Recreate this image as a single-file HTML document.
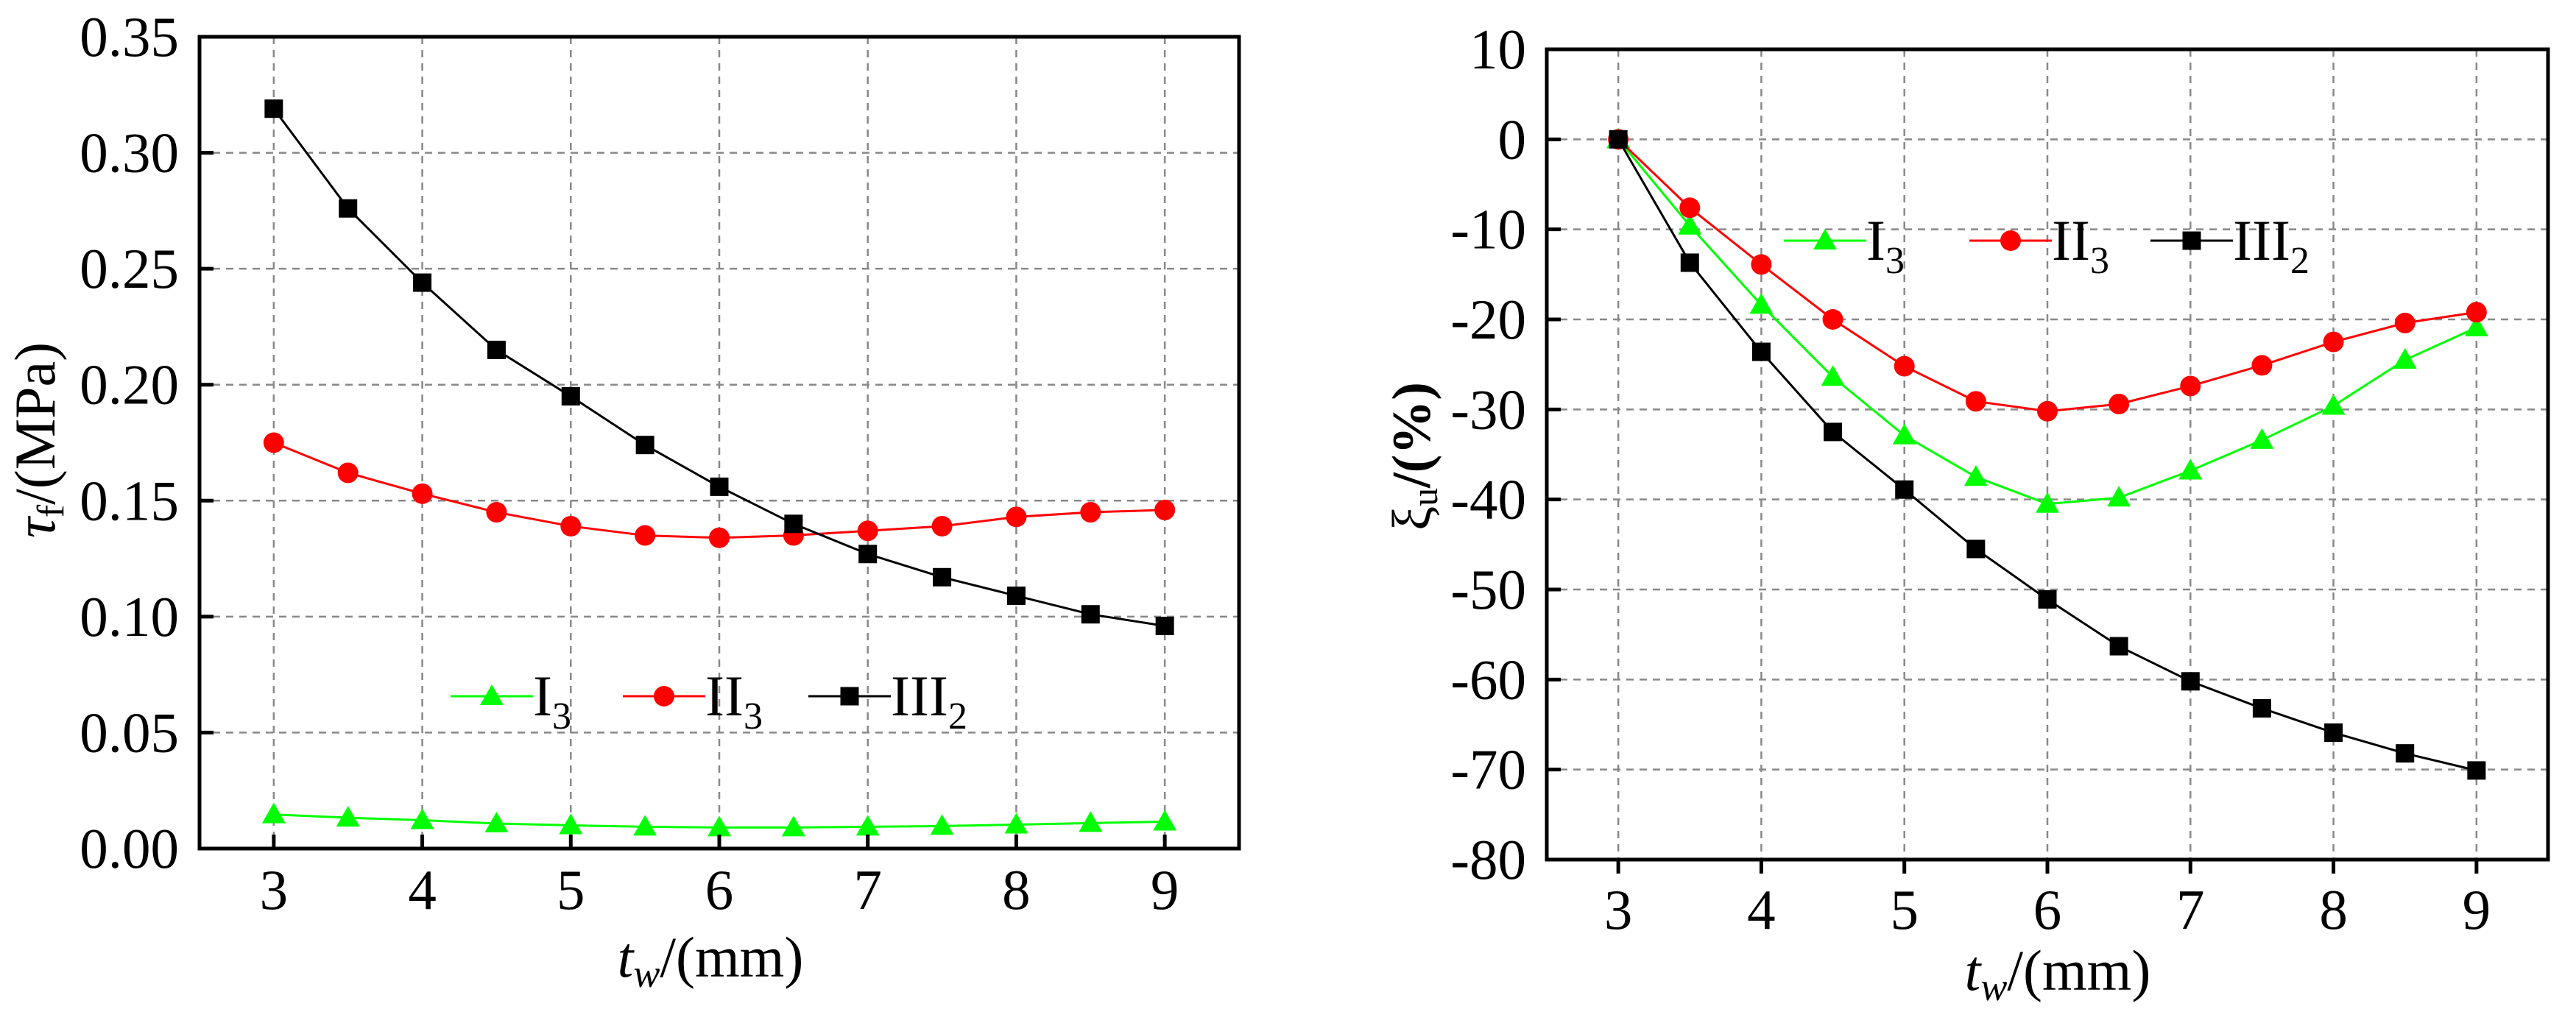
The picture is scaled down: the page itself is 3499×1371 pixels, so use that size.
<!DOCTYPE html>
<html><head><meta charset="utf-8"><style>
html,body{margin:0;padding:0;background:#fff;}
svg{display:block;font-family:"Liberation Serif",serif;}
</style></head><body>
<svg id="c" width="3499" height="1371" viewBox="0 0 3499 1371" xmlns="http://www.w3.org/2000/svg"></svg>
<script>
const xCats=[3,3.5,4,4.5,5,5.5,6,6.5,7,7.5,8,8.5,9];
const xTicks=[3,4,5,6,7,8,9];
const leftYTicks=[0,0.05,0.10,0.15,0.20,0.25,0.30,0.35];
const leftYLabels=["0.00","0.05","0.10","0.15","0.20","0.25","0.30","0.35"];
const leftI3=[0.0147,0.0133,0.0122,0.0108,0.0100,0.0094,0.0091,0.0091,0.0094,0.0097,0.0103,0.0110,0.0116];
const leftII3=[0.175,0.162,0.153,0.145,0.139,0.135,0.134,0.135,0.137,0.139,0.143,0.145,0.146];
const leftIII2=[0.319,0.276,0.244,0.215,0.195,0.174,0.156,0.140,0.127,0.117,0.109,0.101,0.096];
const rightYTicks=[-80,-70,-60,-50,-40,-30,-20,-10,0,10];
const rightI3=[0,-9.6,-18.4,-26.4,-32.9,-37.5,-40.5,-39.8,-36.8,-33.4,-29.6,-24.5,-20.9];
const rightII3=[0,-7.6,-13.9,-20,-25.2,-29.1,-30.2,-29.4,-27.4,-25.1,-22.5,-20.4,-19.2];
const rightIII2=[0,-13.7,-23.6,-32.5,-38.9,-45.5,-51.1,-56.3,-60.2,-63.2,-65.9,-68.2,-70.1];

const NS="http://www.w3.org/2000/svg";
const svg=document.getElementById('c');
function mk(tag,attrs,parent){const e=document.createElementNS(NS,tag);for(const k in attrs)e.setAttribute(k,attrs[k]);(parent||svg).appendChild(e);return e;}

function marker(g,type,cx,cy,color){
  let m;
  if(type==='tri'){m=mk('polygon',{points:`${cx},${cy-16} ${cx-16},${cy+12} ${cx+16},${cy+12}`,fill:color},g);}
  else if(type==='circ'){m=mk('circle',{cx:cx,cy:cy,r:14,fill:color},g);}
  else{m=mk('rect',{x:cx-12.5,y:cy-12.5,width:25,height:25,fill:color},g);}
  return m;
}

function panel(o){
  const g=mk('g',{});
  
  
  const X=v=>o.x0+(v-2.5)/(7)*(o.x1-o.x0);
  const Y=v=>o.y1-(v-o.ymin)/(o.ymax-o.ymin)*(o.y1-o.y0);
  xTicks.forEach(t=>{const l=mk('line',{x1:X(t),x2:X(t),y1:o.y0,y2:o.y1,stroke:'#888','stroke-width':2.5,'stroke-dasharray':'10 8'},g);
    });
  o.yTicks.forEach(t=>{if(t===o.ymin||t===o.ymax)return;const l=mk('line',{x1:o.x0,x2:o.x1,y1:Y(t),y2:Y(t),stroke:'#888','stroke-width':2.5,'stroke-dasharray':'10 8'},g);
    });
  const series=[[o.s1,'#00ff00','tri','series-I3'],[o.s2,'#ff0000','circ','series-II3'],[o.s3,'#000000','sq','series-III2']];
  series.forEach(([d,c,t,n])=>{
    const sg=mk('g',{},g);
    
    const pts=d.map((v,i)=>X(xCats[i])+','+Y(v)).join(' ');
    mk('polyline',{points:pts,fill:'none',stroke:c,'stroke-width':3},sg);
    d.forEach((v,i)=>{const m=marker(sg,t,X(xCats[i]),Y(v),c);});
  });
  const f=mk('rect',{x:o.x0,y:o.y0,width:o.x1-o.x0,height:o.y1-o.y0,fill:'none',stroke:'#000','stroke-width':5},g);
  
  xTicks.forEach(t=>{
    const ty=o.xTickOut?o.y1+19:o.y1-19;
    mk('line',{x1:X(t),x2:X(t),y1:o.y1,y2:ty,stroke:'#000','stroke-width':5},g);
    const tx=mk('text',{x:X(t),y:o.xLabY,'font-size':77,'text-anchor':'middle','dominant-baseline':'central'},g);
    tx.textContent=t;
  });
  o.yTicks.forEach((t,i)=>{
    mk('line',{x1:o.x0,x2:o.x0+19,y1:Y(t),y2:Y(t),stroke:'#000','stroke-width':5},g);
    const tx=mk('text',{x:o.x0-28,y:Y(t),'font-size':77,'text-anchor':'end','dominant-baseline':'central'},g);
    tx.textContent=o.yLabels[i];
  });
  const lg=mk('g',{},g);
  const names=[['I','3'],['II','3'],['III','2']];
  series.forEach(([d,c,t,n],i)=>{
    const lx=o.legX[i],ly=o.legY;
    const eg=mk('g',{},lg);
    mk('line',{x1:lx,x2:lx+112,y1:ly,y2:ly,stroke:c,'stroke-width':3},eg);
    marker(eg,t,lx+56,ly,c);
    const tx=mk('text',{x:lx+112,y:ly+26,'font-size':78},eg);
    tx.innerHTML=names[i][0]+'<tspan font-size="52" dy="18">'+names[i][1]+'</tspan>';
  });
  return {X,Y};
}

panel({name:'left-chart',x0:271,x1:1683,y0:50,y1:1153,ymin:0,ymax:0.35,yTicks:leftYTicks,yLabels:leftYLabels,
  s1:leftI3,s2:leftII3,s3:leftIII2,xTickOut:false,xLabY:1209,legX:[612,846,1098],legY:946});
panel({name:'right-chart',x0:2101,x1:3461,y0:67,y1:1168,ymin:-80,ymax:10,yTicks:rightYTicks,yLabels:rightYTicks.map(String),
  s1:rightI3,s2:rightII3,s3:rightIII2,xTickOut:true,xLabY:1236,legX:[2423,2675,2921],legY:327});

let t=mk('text',{x:965,y:1327,'font-size':78,'text-anchor':'middle'});
t.innerHTML='<tspan font-style="italic">t</tspan><tspan font-style="italic" font-size="54" dy="14">w</tspan><tspan dy="-14">/(mm)</tspan>';

t=mk('text',{x:2795,y:1345,'font-size':78,'text-anchor':'middle'});
t.innerHTML='<tspan font-style="italic">t</tspan><tspan font-style="italic" font-size="54" dy="14">w</tspan><tspan dy="-14">/(mm)</tspan>';

t=mk('text',{x:0,y:0,'font-size':78,'text-anchor':'middle',transform:'translate(74,598) rotate(-90)'});
t.innerHTML='<tspan font-style="italic">τ</tspan><tspan font-size="52" dy="12">f</tspan><tspan dy="-12">/(MPa)</tspan>';

t=mk('text',{x:0,y:0,'font-size':74,'text-anchor':'middle',transform:'translate(1942,620) rotate(-90)'});
t.innerHTML='<tspan>ξ</tspan><tspan font-size="50" dy="10">u</tspan><tspan dy="-10" font-weight="bold">/(%)</tspan>';

</script>
</body></html>
